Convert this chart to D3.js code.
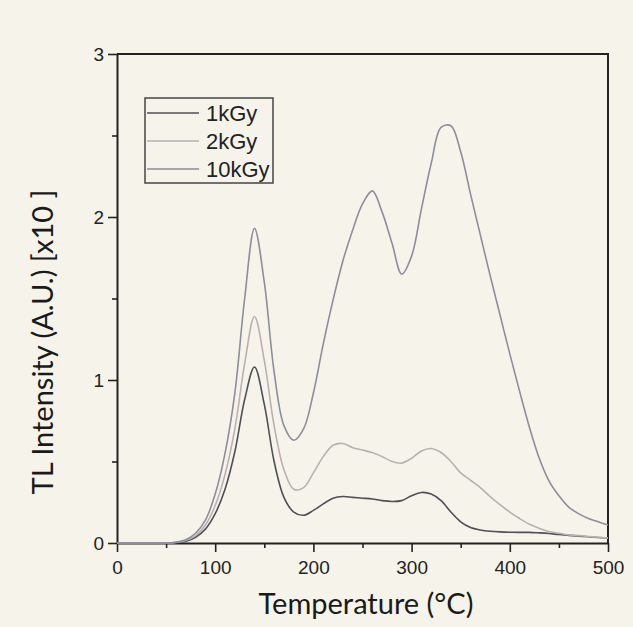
<!DOCTYPE html>
<html>
<head>
<meta charset="utf-8">
<script src="https://cdn.jsdelivr.net/npm/d3@7/dist/d3.min.js"></script>
<style>
  body { margin: 0; background: #f6f4ea; }
  svg { display: block; }
</style>
</head>
<body>
<svg id="chart"></svg>
<script>
// temperature grid (°C)
var temps = [0,10,20,30,40,50,60,70,80,90,100,110,120,130,140,150,160,170,180,190,200,
    210,220,230,240,250,260,270,280,290,300,310,320,330,340,350,360,370,380,390,400,
    410,420,430,440,450,460,470,480,490,500];

// TL intensity (x10)
var gy1 = [0,0,0,0,0,0,0.003,0.01,0.035,0.085,0.18,0.33,0.56,0.88,1.08,0.85,0.5,0.28,0.19,0.17,0.2,
    0.24,0.275,0.285,0.28,0.275,0.27,0.26,0.255,0.26,0.29,0.31,0.3,0.26,0.19,0.13,0.095,0.08,0.072,0.068,0.066,
    0.065,0.065,0.062,0.058,0.052,0.047,0.042,0.038,0.034,0.03];
var gy2 = [0,0,0,0,0,0,0.004,0.015,0.045,0.11,0.23,0.42,0.7,1.1,1.39,1.12,0.72,0.45,0.33,0.34,0.43,
    0.53,0.6,0.61,0.585,0.57,0.555,0.53,0.5,0.49,0.52,0.565,0.58,0.555,0.5,0.43,0.385,0.34,0.285,0.235,0.19,
    0.15,0.115,0.09,0.07,0.06,0.05,0.045,0.04,0.035,0.03];
var gy10 = [0,0,0,0,0,0,0.005,0.02,0.06,0.14,0.3,0.55,0.92,1.5,1.93,1.6,1.05,0.72,0.63,0.7,0.92,
    1.22,1.49,1.73,1.92,2.08,2.16,2.03,1.84,1.65,1.76,2.05,2.33,2.55,2.56,2.4,2.14,1.89,1.64,1.4,1.16,
    0.93,0.71,0.52,0.38,0.29,0.22,0.18,0.15,0.13,0.11];

var seriesNames = ['1kGy', '2kGy', '10kGy'];
var seriesColors = ['#4f4f57', '#bab0b0', '#8d8d9d'];
var xTicks = [0, 100, 200, 300, 400, 500];
var yTicks = [0, 1, 2, 3];

var W = 633, H = 627;
var pLeft = 117, pTop = 54, pRight = 608, pBottom = 543;

var svg = d3.select('#chart').attr('width', W).attr('height', H);
svg.append('rect').attr('width', W).attr('height', H).attr('fill', '#f6f4ea');

var x = d3.scaleLinear().domain([0, 500]).range([pLeft, pRight]);
var y = d3.scaleLinear().domain([0, 3]).range([pBottom, pTop]);

var tickFont = '"Liberation Sans", Arial, sans-serif';

// minor ticks
svg.append('g')
    .attr('transform', 'translate(0,' + pBottom + ')')
    .call(d3.axisBottom(x).tickValues(d3.range(50, 500, 100)).tickSize(5).tickFormat(''))
    .call(function(g) { g.select('.domain').remove(); });
svg.append('g')
    .attr('transform', 'translate(' + pLeft + ',0)')
    .call(d3.axisLeft(y).tickValues([0.5, 1.5, 2.5]).tickSize(5).tickFormat(''))
    .call(function(g) { g.select('.domain').remove(); });

// major ticks
svg.append('g')
    .attr('transform', 'translate(0,' + pBottom + ')')
    .call(d3.axisBottom(x).tickValues(xTicks).tickSize(9).tickPadding(9).tickSizeOuter(0));
svg.append('g')
    .attr('transform', 'translate(' + pLeft + ',0)')
    .call(d3.axisLeft(y).tickValues(yTicks).tickFormat(d3.format('d')).tickSize(9).tickPadding(4).tickSizeOuter(0));

svg.selectAll('.tick line').attr('stroke', '#222').attr('stroke-width', 1.6);
svg.selectAll('.domain').attr('stroke', '#222').attr('stroke-width', 2);
svg.selectAll('.tick text')
    .style('font-family', tickFont)
    .style('font-size', '19px')
    .attr('fill', '#222');

// frame top and right
svg.append('path')
    .attr('d', 'M' + pLeft + ',' + pTop + 'H' + pRight + 'V' + pBottom)
    .attr('fill', 'none')
    .attr('stroke', '#222')
    .attr('stroke-width', 2);

// curves
var line = d3.line()
    .x(function(d) { return x(d[0]); })
    .y(function(d) { return y(d[1]); })
    .curve(d3.curveCatmullRom.alpha(0.5));

[gy1, gy2, gy10].forEach(function(vals, i) {
    svg.append('path')
        .datum(temps.map(function(t, j) { return [t, vals[j]]; }))
        .attr('d', line)
        .attr('fill', 'none')
        .attr('stroke', seriesColors[i])
        .attr('stroke-width', 1.6);
});

// legend
var lg = svg.append('g');
lg.append('rect')
    .attr('x', 145).attr('y', 98).attr('width', 128).attr('height', 85)
    .attr('fill', 'none').attr('stroke', '#444').attr('stroke-width', 1.5);
seriesNames.forEach(function(name, i) {
    var ly = 113 + i * 28;
    lg.append('line')
        .attr('x1', 147).attr('x2', 199).attr('y1', ly).attr('y2', ly)
        .attr('stroke', seriesColors[i]).attr('stroke-width', 1.6);
    lg.append('text')
        .attr('x', 206).attr('y', ly).attr('dy', '0.36em')
        .style('font-family', tickFont).style('font-size', '22px')
        .attr('fill', '#222')
        .text(name);
});

// axis titles
var titleFont = 'Lato, "Open Sans", sans-serif';
svg.append('text')
    .attr('x', 366).attr('y', 614)
    .attr('text-anchor', 'middle')
    .style('font-family', titleFont).style('font-size', '29px')
    .attr('fill', '#1a1a1a')
    .text('Temperature (°C)');
svg.append('text')
    .attr('transform', 'translate(53,342) rotate(-90)')
    .attr('text-anchor', 'middle')
    .style('font-family', titleFont).style('font-size', '29px')
    .attr('fill', '#1a1a1a')
    .text('TL Intensity (A.U.) [x10 ]');
</script>
</body>
</html>
